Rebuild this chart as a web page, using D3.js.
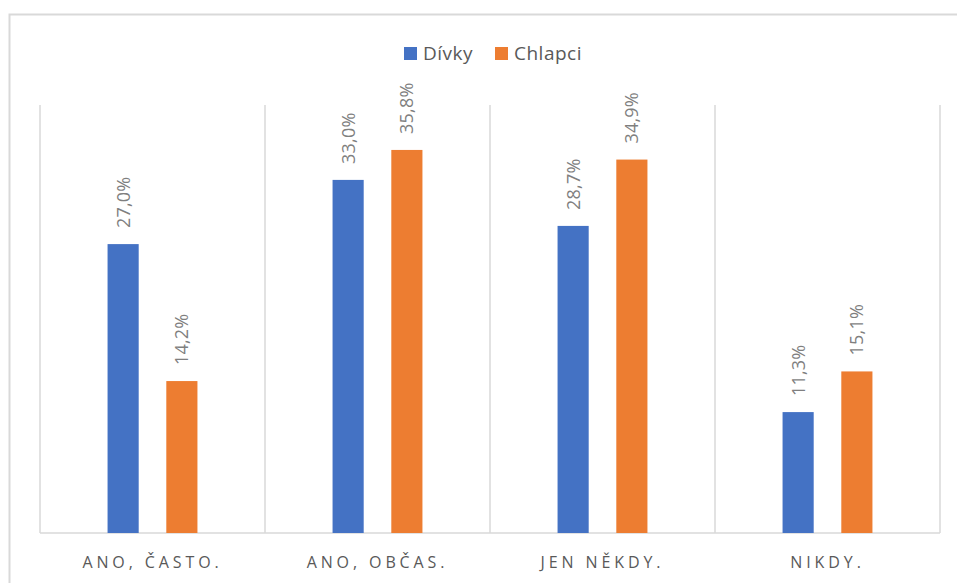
<!DOCTYPE html>
<html>
<head>
<meta charset="utf-8">
<script src="https://cdn.jsdelivr.net/npm/d3@7"></script>
<style>
  body { margin: 0; background: #fff; }
  svg { display: block; }
  text { font-family: "Open Sans", sans-serif; }
</style>
</head>
<body>
<svg width="957" height="583"></svg>
<script>
var categories = ["ANO, ČASTO.", "ANO, OBČAS.", "JEN NĚKDY.", "NIKDY."];
var seriesNames = ["Dívky", "Chlapci"];
var divky = [27.0, 33.0, 28.7, 11.3];
var chlapci = [14.2, 35.8, 34.9, 15.1];
var colors = ["#4472C4", "#ED7D31"];

var svg = d3.select("svg");

// frame (only top and left edges show in the crop)
svg.append("rect")
  .attr("x", 9.5).attr("y", 14.5)
  .attr("width", 1000).attr("height", 1000)
  .attr("fill", "none")
  .attr("stroke", "#d9d9d9")
  .attr("stroke-width", 2);

var x0 = d3.scaleBand().domain(categories).range([40, 940]).padding(0);
var x1 = d3.scaleBand().domain(seriesNames).range([0, x0.bandwidth()])
  .paddingInner(0.47).paddingOuter(1.15);
var y = d3.scaleLinear().domain([0, 40]).range([533, 105]);

var rows = categories.map(function (c, i) {
  return { cat: c, values: [
    { name: seriesNames[0], value: divky[i] },
    { name: seriesNames[1], value: chlapci[i] }
  ] };
});

// vertical separators
var sepX = categories.map(function (c) { return x0(c); }).concat([x0.range()[1]]);
svg.append("g").selectAll("line")
  .data(sepX)
  .enter()
  .append("line")
  .attr("x1", function (d) { return d; })
  .attr("x2", function (d) { return d; })
  .attr("y1", y(40))
  .attr("y2", y(0))
  .attr("stroke", "#d9d9d9")
  .attr("stroke-width", 1.5);

// baseline
svg.append("line")
  .attr("x1", x0.range()[0]).attr("x2", x0.range()[1])
  .attr("y1", y(0)).attr("y2", y(0))
  .attr("stroke", "#d9d9d9")
  .attr("stroke-width", 1.5);

var groups = svg.append("g").selectAll("g")
  .data(rows)
  .enter()
  .append("g")
  .attr("transform", function (d) { return "translate(" + x0(d.cat) + ",0)"; });

groups.selectAll("rect")
  .data(function (d) { return d.values; })
  .enter()
  .append("rect")
  .attr("x", function (d) { return x1(d.name); })
  .attr("width", x1.bandwidth())
  .attr("y", function (d) { return y(d.value); })
  .attr("height", function (d) { return y(0) - y(d.value); })
  .attr("fill", function (d, i) { return colors[i]; });

groups.selectAll("text")
  .data(function (d) { return d.values; })
  .enter()
  .append("text")
  .attr("transform", function (d) {
    var cx = x1(d.name) + x1.bandwidth() / 2 + 6.5;
    var cy = y(d.value) - 16;
    return "translate(" + cx + "," + cy + ") rotate(-90)";
  })
  .attr("font-size", 18)
  .attr("letter-spacing", 0.2)
  .attr("fill", "#7f7f7f")
  .text(function (d) { return d.value.toFixed(1).replace(".", ",") + "%"; });

// category labels
var xAxis = d3.axisBottom(x0).tickSize(0).tickPadding(0);
var ax = svg.append("g")
  .attr("transform", "translate(0," + y(0) + ")")
  .call(xAxis);
ax.select(".domain").remove();
ax.selectAll("text")
  .attr("y", 35)
  .attr("dy", 0)
  .attr("font-size", 16)
  .attr("font-family", "Open Sans, sans-serif")
  .attr("letter-spacing", 3.9)
  .attr("fill", "#595959");

// legend
var legendX = [404, 495];
var legend = svg.append("g").selectAll("g")
  .data(seriesNames)
  .enter()
  .append("g")
  .attr("transform", function (d, i) { return "translate(" + legendX[i] + ",47)"; });
legend.append("rect")
  .attr("width", 13).attr("height", 13)
  .attr("fill", function (d, i) { return colors[i]; });
legend.append("text")
  .attr("x", 19).attr("y", 12.5)
  .attr("font-size", 19)
  .attr("letter-spacing", 0.5)
  .attr("fill", "#595959")
  .text(function (d) { return d; });
</script>
</body>
</html>
